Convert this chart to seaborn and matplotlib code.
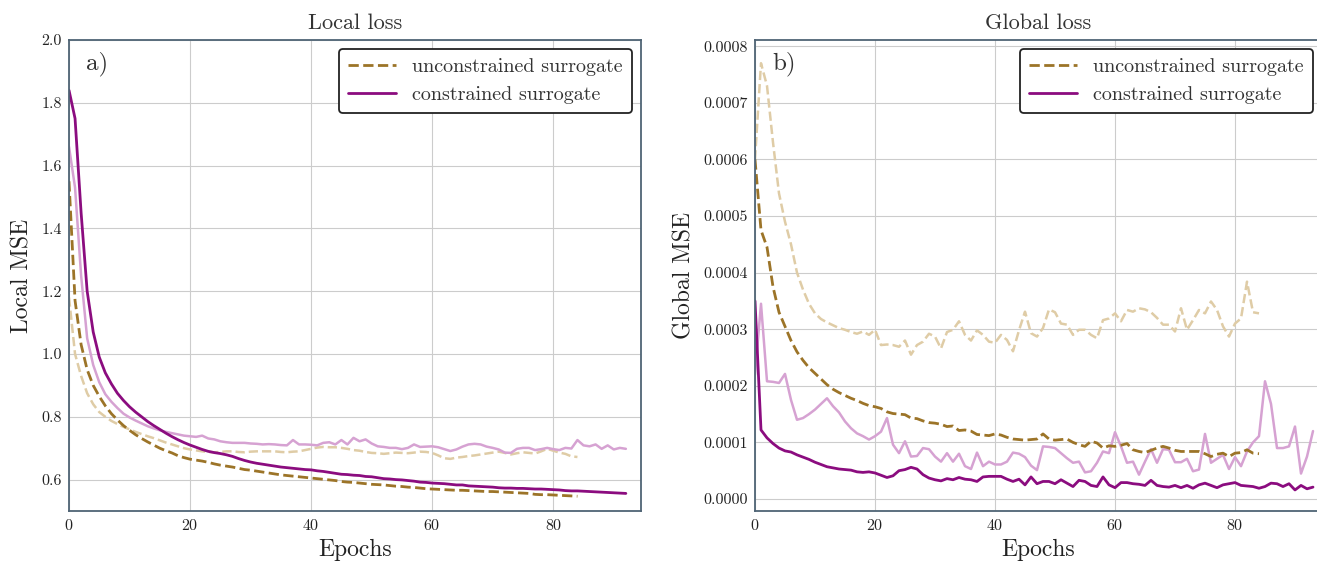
import numpy as np
import pandas as pd
import matplotlib
matplotlib.use("Agg")
import matplotlib.pyplot as plt
from matplotlib.ticker import FormatStrFormatter, MultipleLocator
import seaborn as sns

# ---------------- data ----------------
local_constrained = [1.84, 1.75, 1.45, 1.20, 1.07, 0.99, 0.94, 0.905, 0.875, 0.852,
                     0.832, 0.815, 0.80, 0.785, 0.772, 0.76, 0.748, 0.737, 0.727, 0.718,
                     0.71, 0.703, 0.696, 0.69, 0.686, 0.683, 0.679, 0.674, 0.667, 0.661,
                     0.656, 0.652, 0.649, 0.646, 0.643, 0.64, 0.638, 0.636, 0.634, 0.632,
                     0.631, 0.628, 0.626, 0.623, 0.62, 0.617, 0.616, 0.614, 0.613, 0.61,
                     0.609, 0.606, 0.603, 0.602, 0.60, 0.599, 0.597, 0.595, 0.592, 0.591,
                     0.589, 0.588, 0.587, 0.585, 0.583, 0.583, 0.58, 0.579, 0.578, 0.577,
                     0.576, 0.574, 0.573, 0.573, 0.572, 0.572, 0.571, 0.57, 0.57, 0.569,
                     0.568, 0.567, 0.565, 0.564, 0.564, 0.563, 0.562, 0.561, 0.56, 0.559,
                     0.558, 0.557, 0.556]
local_constrained_val = [1.66, 1.53, 1.25, 1.05, 0.965, 0.91, 0.872, 0.848, 0.828, 0.81,
                         0.798, 0.788, 0.779, 0.77, 0.763, 0.757, 0.752, 0.748, 0.744, 0.74,
                         0.738, 0.736, 0.74, 0.731, 0.728, 0.722, 0.719, 0.717, 0.717, 0.717,
                         0.715, 0.714, 0.712, 0.713, 0.712, 0.71, 0.709, 0.726, 0.712, 0.712,
                         0.711, 0.709, 0.717, 0.719, 0.712, 0.726, 0.712, 0.733, 0.722, 0.728,
                         0.715, 0.706, 0.704, 0.701, 0.701, 0.697, 0.701, 0.712, 0.704, 0.705,
                         0.706, 0.703, 0.697, 0.691, 0.696, 0.705, 0.712, 0.714, 0.712, 0.705,
                         0.701, 0.696, 0.686, 0.685, 0.698, 0.701, 0.701, 0.694, 0.697, 0.701,
                         0.697, 0.694, 0.701, 0.699, 0.726, 0.709, 0.706, 0.712, 0.698, 0.709,
                         0.696, 0.701, 0.698]
local_unconstrained = [1.55, 1.17, 1.03, 0.95, 0.90, 0.865, 0.835, 0.81, 0.79, 0.772,
                       0.757, 0.743, 0.731, 0.72, 0.71, 0.70, 0.692, 0.685, 0.676, 0.67,
                       0.665, 0.662, 0.659, 0.655, 0.65, 0.646, 0.643, 0.64, 0.636, 0.632,
                       0.63, 0.627, 0.624, 0.621, 0.618, 0.615, 0.613, 0.611, 0.609, 0.607,
                       0.605, 0.603, 0.601, 0.599, 0.597, 0.594, 0.592, 0.591, 0.589, 0.587,
                       0.585, 0.584, 0.583, 0.581, 0.579, 0.578, 0.576, 0.575, 0.573, 0.571,
                       0.57, 0.569, 0.568, 0.567, 0.566, 0.566, 0.565, 0.564, 0.563, 0.562,
                       0.562, 0.561, 0.56, 0.559, 0.558, 0.557, 0.556, 0.553, 0.552, 0.552,
                       0.551, 0.55, 0.549, 0.548, 0.547]
local_unconstrained_val = [1.18, 1.0, 0.93, 0.875, 0.84, 0.815, 0.80, 0.787, 0.777, 0.768,
                           0.76, 0.752, 0.745, 0.738, 0.732, 0.725, 0.718, 0.712, 0.706, 0.70,
                           0.696, 0.693, 0.69, 0.688, 0.687, 0.688, 0.69, 0.69, 0.688, 0.687,
                           0.689, 0.69, 0.69, 0.69, 0.69, 0.688, 0.687, 0.689, 0.69, 0.694,
                           0.698, 0.702, 0.704, 0.703, 0.703, 0.701, 0.698, 0.694, 0.692, 0.688,
                           0.685, 0.684, 0.682, 0.684, 0.686, 0.685, 0.684, 0.686, 0.689, 0.688,
                           0.685, 0.677, 0.668, 0.666, 0.67, 0.672, 0.675, 0.677, 0.68, 0.683,
                           0.686, 0.689, 0.685, 0.68, 0.684, 0.687, 0.685, 0.683, 0.69, 0.698,
                           0.692, 0.686, 0.682, 0.674, 0.672]

# global MSE, in units of 1e-4
global_constrained_e4 = [3.5, 1.22, 1.08, 0.98, 0.90, 0.85, 0.83, 0.78, 0.74, 0.70,
                         0.65, 0.61, 0.57, 0.55, 0.53, 0.52, 0.51, 0.48, 0.47, 0.48,
                         0.46, 0.42, 0.38, 0.41, 0.50, 0.52, 0.56, 0.53, 0.43, 0.37,
                         0.34, 0.32, 0.36, 0.34, 0.38, 0.35, 0.34, 0.31, 0.39, 0.40,
                         0.40, 0.40, 0.35, 0.31, 0.35, 0.25, 0.39, 0.27, 0.31, 0.31,
                         0.27, 0.34, 0.28, 0.22, 0.33, 0.31, 0.24, 0.22, 0.39, 0.25,
                         0.20, 0.29, 0.29, 0.27, 0.26, 0.24, 0.33, 0.24, 0.22, 0.21,
                         0.24, 0.20, 0.24, 0.19, 0.25, 0.28, 0.24, 0.20, 0.25, 0.27,
                         0.29, 0.24, 0.23, 0.22, 0.19, 0.22, 0.28, 0.27, 0.22, 0.27,
                         0.16, 0.24, 0.18, 0.21]
global_constrained_val_e4 = [2.2, 3.45, 2.08, 2.07, 2.05, 2.21, 1.75, 1.40, 1.43, 1.50,
                             1.58, 1.68, 1.78, 1.64, 1.53, 1.37, 1.25, 1.16, 1.11, 1.05,
                             1.11, 1.19, 1.43, 0.96, 0.81, 1.02, 0.75, 0.76, 0.90, 0.88,
                             0.75, 0.66, 0.81, 0.66, 0.80, 0.58, 0.53, 0.82, 0.58, 0.66,
                             0.61, 0.61, 0.66, 0.82, 0.80, 0.74, 0.59, 0.51, 0.93, 0.92,
                             0.90, 0.81, 0.72, 0.64, 0.66, 0.47, 0.49, 0.64, 0.84, 0.81,
                             1.18, 0.93, 0.64, 0.66, 0.43, 0.66, 0.88, 0.64, 0.88, 0.87,
                             0.65, 0.65, 0.71, 0.49, 0.52, 1.15, 0.64, 0.71, 0.78, 0.53,
                             0.74, 0.58, 0.84, 1.00, 1.11, 2.08, 1.68, 0.90, 0.90, 0.93,
                             1.28, 0.45, 0.75, 1.20]
global_unconstrained_e4 = [6.0, 4.75, 4.45, 3.75, 3.3, 3.05, 2.8, 2.6, 2.45, 2.32,
                           2.22, 2.12, 2.02, 1.94, 1.88, 1.83, 1.78, 1.74, 1.69, 1.65,
                           1.63, 1.60, 1.54, 1.51, 1.50, 1.49, 1.43, 1.42, 1.38, 1.35,
                           1.34, 1.32, 1.28, 1.29, 1.21, 1.22, 1.20, 1.14, 1.13, 1.12,
                           1.15, 1.13, 1.09, 1.06, 1.05, 1.04, 1.05, 1.06, 1.15, 1.06,
                           1.04, 1.05, 1.06, 1.00, 0.96, 0.93, 1.02, 0.99, 0.90, 0.94,
                           0.93, 0.95, 0.98, 0.87, 0.84, 0.82, 0.86, 0.90, 0.93, 0.90,
                           0.86, 0.84, 0.84, 0.84, 0.84, 0.80, 0.75, 0.79, 0.81, 0.75,
                           0.81, 0.82, 0.87, 0.81, 0.80]
global_unconstrained_val_e4 = [6.0, 7.7, 7.3, 6.3, 5.4, 4.9, 4.5, 4.0, 3.7, 3.45,
                               3.28, 3.18, 3.12, 3.07, 3.02, 2.99, 2.95, 2.92, 2.96, 2.90,
                               2.99, 2.72, 2.73, 2.72, 2.69, 2.80, 2.55, 2.72, 2.78, 2.92,
                               2.87, 2.66, 2.95, 2.99, 3.14, 2.90, 2.80, 2.98, 2.90, 2.78,
                               2.76, 2.90, 2.81, 2.61, 2.98, 3.31, 2.93, 2.87, 3.02, 3.35,
                               3.30, 3.10, 3.08, 2.90, 2.99, 2.99, 2.90, 2.84, 3.16, 3.19,
                               3.28, 3.14, 3.34, 3.31, 3.37, 3.35, 3.30, 3.20, 3.08, 3.08,
                               2.96, 3.37, 2.99, 3.16, 3.34, 3.28, 3.49, 3.34, 3.05, 2.87,
                               3.10, 3.19, 3.84, 3.30, 3.28]

x_ticks = [0, 20, 40, 60, 80]
legend_labels = ["unconstrained surrogate", "constrained surrogate"]
titles = ["Local loss", "Global loss"]
ylabels = ["Local MSE", "Global MSE"]
panel_tags = ["a)", "b)"]

# ---------------- style ----------------
sns.set_style("whitegrid", {"grid.color": "#cccccc", "axes.edgecolor": "#4f6475"})
plt.rcParams["font.family"] = ["cmr10", "DejaVu Serif"]
plt.rcParams["mathtext.fontset"] = "cm"
plt.rcParams["axes.formatter.use_mathtext"] = True
plt.rcParams["axes.unicode_minus"] = False

C_DARK = "#8b0c7f"
C_LIGHT = "#d6a2d2"
U_DARK = "#9c7428"
U_LIGHT = "#dfcca6"

fig = plt.figure(figsize=(13.17, 5.63), dpi=100)
ax1 = fig.add_axes([69 / 1317, 52 / 563, 572 / 1317, 471 / 563])
ax2 = fig.add_axes([755 / 1317, 52 / 563, 567 / 1317, 471 / 563])


def draw(ax, unc, unc_val, con, con_val):
    ax.set_xlim(0, 94.5)
    sns.lineplot(x=np.arange(len(unc_val)), y=unc_val, ax=ax, color=U_LIGHT,
                 linestyle="--", linewidth=1.8)
    sns.lineplot(x=np.arange(len(con_val)), y=con_val, ax=ax, color=C_LIGHT,
                 linewidth=1.8)
    sns.lineplot(x=np.arange(len(unc)), y=unc, ax=ax, color=U_DARK,
                 linestyle="--", linewidth=2.0, label=legend_labels[0])
    sns.lineplot(x=np.arange(len(con)), y=con, ax=ax, color=C_DARK,
                 linewidth=2.0, label=legend_labels[1])


draw(ax1, local_unconstrained, local_unconstrained_val,
     local_constrained, local_constrained_val)
draw(ax2, np.array(global_unconstrained_e4) * 1e-4,
     np.array(global_unconstrained_val_e4) * 1e-4,
     np.array(global_constrained_e4) * 1e-4,
     np.array(global_constrained_val_e4) * 1e-4)

ax1.set_ylim(0.5, 2.0)
ax1.yaxis.set_major_locator(MultipleLocator(0.2))
ax1.yaxis.set_major_formatter(FormatStrFormatter("%.1f"))
ax2.set_ylim(-0.0000212, 0.000811)
ax2.yaxis.set_major_locator(MultipleLocator(0.0001))
ax2.yaxis.set_major_formatter(FormatStrFormatter("%.4f"))

for i, ax in enumerate([ax1, ax2]):
    ax.set_xticks(x_ticks)
    ax.tick_params(axis="both", labelsize=11.5, colors="#222222", length=0, pad=5)
    ax.set_xlabel("Epochs", fontsize=17, color="#222222", labelpad=4)
    ax.set_ylabel(ylabels[i], fontsize=17, color="#222222", labelpad=6)
    ax.set_title(titles[i], fontsize=16, color="#333333", pad=8)
    ax.text(0.03, 0.975, panel_tags[i], transform=ax.transAxes, fontsize=18,
            va="top", ha="left", color="#333333")
    for s in ax.spines.values():
        s.set_color("#4f6475")
        s.set_linewidth(1.3)
    leg = ax.legend(loc="upper right", fontsize=14.5, frameon=True, fancybox=True,
                    handlelength=2.4, borderpad=0.45, labelspacing=0.5,
                    borderaxespad=0.45, bbox_to_anchor=(1.0, 1.0))
    leg.get_frame().set_edgecolor("#222222")
    leg.get_frame().set_linewidth(1.3)
    leg.get_frame().set_alpha(1.0)
    for t in leg.get_texts():
        t.set_color("#333333")

fig.savefig("out.png", dpi=100)
